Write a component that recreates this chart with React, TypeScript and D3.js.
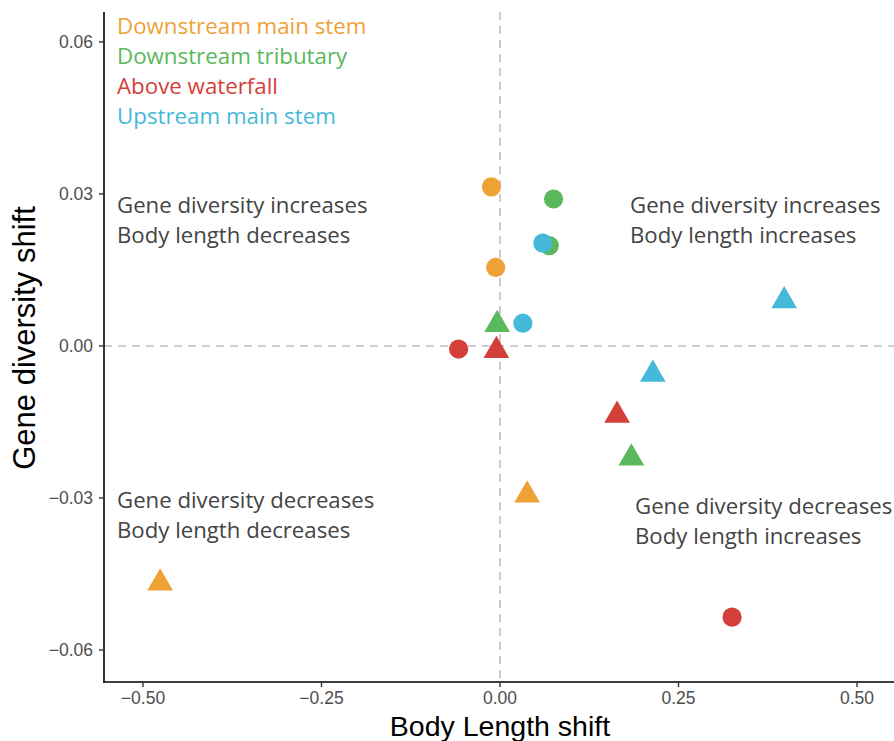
import React from "react";
import * as d3 from "d3";

// Groups in legend order, with their colours
const groups = ["Downstream main stem", "Downstream tributary", "Above waterfall", "Upstream main stem"];
const groupColors = ["#EEA236", "#5CB85C", "#D43F3A", "#46B8DA"];

// Per-point values: group index, marker shape, body length shift, gene diversity shift
const pointGroup = [0, 0, 0, 0, 1, 1, 1, 1, 2, 2, 2, 2, 3, 3, 3, 3];
const pointShape = ["circle", "circle", "triangle", "triangle", "circle", "circle", "triangle", "triangle", "circle", "circle", "triangle", "triangle", "circle", "circle", "triangle", "triangle"];
const bodyShift = [-0.012, -0.006, 0.038, -0.476, 0.075, 0.069, -0.004, 0.184, -0.058, 0.325, -0.005, 0.164, 0.060, 0.032, 0.398, 0.214];
const geneShift = [0.0314, 0.0155, -0.0294, -0.0468, 0.0290, 0.0198, 0.0042, -0.0221, -0.0006, -0.0535, -0.0009, -0.0137, 0.0203, 0.0045, 0.0089, -0.0056];

const xTicks = [-0.5, -0.25, 0, 0.25, 0.5];
const yTicks = [-0.06, -0.03, 0, 0.03, 0.06];

const quadrantLabels = [
  { lines: ["Gene diversity increases", "Body length decreases"], x: 117, y: 213 },
  { lines: ["Gene diversity increases", "Body length increases"], x: 630, y: 213 },
  { lines: ["Gene diversity decreases", "Body length decreases"], x: 117, y: 508 },
  { lines: ["Gene diversity decreases", "Body length increases"], x: 635, y: 514 },
];

const W = 894;
const H = 741;
const left = 104;
const right = 894;
const top = 12;
const bottom = 682;

const x = d3.scaleLinear().domain([-0.5546, 0.5518]).range([left, right]);
const y = d3.scaleLinear().domain([0.0659, -0.0663]).range([top, bottom]);

const tri = d3.symbol().type(d3.symbolTriangle).size(286)();
const fmt = (v: number) => (v < 0 ? "\u2212" : "") + d3.format(".2f")(Math.abs(v));

const labelFont = "'Open Sans', 'Noto Sans', sans-serif";
const axisFont = "'Liberation Sans', Arial, sans-serif";

export default function App() {
  return (
    <svg width={W} height={H} style={{ position: "absolute", left: 0, top: 0, background: "#fff" }}>
      {/* reference lines at zero */}
      <line x1={left} x2={right} y1={y(0)} y2={y(0)} stroke="#BEBEBE" strokeWidth={1.6} strokeDasharray="8,6" />
      <line x1={x(0)} x2={x(0)} y1={top} y2={bottom} stroke="#BEBEBE" strokeWidth={1.6} strokeDasharray="8,6" />

      {/* quadrant annotations */}
      {quadrantLabels.map((q, i) => (
        <text key={i} x={q.x} y={q.y} fontFamily={labelFont} fontSize={22.2} fill="#444">
          {q.lines.map((l, j) => (
            <tspan key={j} x={q.x} dy={j === 0 ? 0 : 30}>{l}</tspan>
          ))}
        </text>
      ))}

      {/* legend */}
      {groups.map((g, i) => (
        <text key={g} x={117} y={34 + i * 30} fontFamily={labelFont} fontSize={22.3} fill={groupColors[i]}>{g}</text>
      ))}

      {/* points */}
      {bodyShift.map((bx, i) => {
        const cx = x(bx);
        const cy = y(geneShift[i]);
        const c = groupColors[pointGroup[i]];
        return pointShape[i] === "circle" ? (
          <circle key={i} cx={cx} cy={cy} r={9.6} fill={c} />
        ) : (
          <path key={i} d={tri as string} transform={`translate(${cx},${cy})`} fill={c} />
        );
      })}

      {/* axes */}
      <line x1={left} x2={left} y1={top} y2={bottom + 0.75} stroke="#000" strokeWidth={1.6} />
      <line x1={left - 0.75} x2={right} y1={bottom} y2={bottom} stroke="#000" strokeWidth={1.6} />
      {yTicks.map((t) => (
        <g key={t}>
          <line x1={left - 5} x2={left} y1={y(t)} y2={y(t)} stroke="#333" strokeWidth={1.4} />
          <text x={left - 11} y={y(t)} dy="0.36em" textAnchor="end" fontFamily={axisFont} fontSize={17.5} fill="#4D4D4D">{fmt(t)}</text>
        </g>
      ))}
      {xTicks.map((t) => (
        <g key={t}>
          <line x1={x(t)} x2={x(t)} y1={bottom} y2={bottom + 5} stroke="#333" strokeWidth={1.4} />
          <text x={x(t)} y={bottom + 22} textAnchor="middle" fontFamily={axisFont} fontSize={17.5} fill="#4D4D4D">{fmt(t)}</text>
        </g>
      ))}
      <text x={x(0)} y={736} textAnchor="middle" fontFamily={axisFont} fontSize={28.5} fill="#000">Body Length shift</text>
      <text transform={`translate(35,${y(0) - 8}) rotate(-90)`} textAnchor="middle" fontFamily={axisFont} fontSize={31} fill="#000">Gene diversity shift</text>
    </svg>
  );
}
